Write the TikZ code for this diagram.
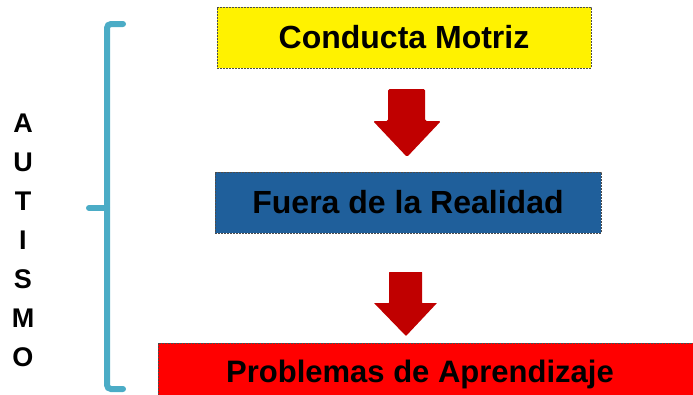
\documentclass[tikz,border=0pt]{standalone}
\usepackage{fontspec}
\setmainfont{Liberation Sans}
\begin{document}
\begin{tikzpicture}[x=1pt,y=-1pt,
  boxtext/.style={font=\fontsize{32}{38}\selectfont\bfseries, text=black},
  dashbox/.style={draw=black!70, line width=0.8pt, dash pattern=on 2pt off 1pt, inner sep=0pt},
  letter/.style={font=\fontsize{27}{30}\selectfont\bfseries, text=black, inner sep=0pt},
  redarrow/.style={fill=arrowred, draw=none, rounded corners=1.5pt},
  bracket/.style={draw=bracketblue, line width=6pt, line cap=round, rounded corners=4pt}]
\definecolor{arrowred}{HTML}{C00000}
\definecolor{boxblue}{HTML}{1F5F9B}
\definecolor{bracketblue}{HTML}{4BACC6}
\useasboundingbox (0,0) rectangle (693,394);
% boxes
\node[dashbox, boxtext, fill=yellow, minimum width=374pt, minimum height=61pt] (b1) at (404,37.5) {Conducta Motriz};
\node[dashbox, boxtext, fill=boxblue, minimum width=386pt, minimum height=61pt] (b2) at (408,202.5) {Fuera de la Realidad};
\path[dashbox, fill=red] (158,343) rectangle (720,420);
\node[boxtext, font=\fontsize{31}{36}\selectfont\bfseries, inner sep=0pt] (b3) at (420,374) {Problemas de Aprendizaje};
% arrows
\path[redarrow] (388,89) -- (425,89) -- (425,121) -- (441,121) -- (407,157) -- (373,121) -- (388,121) -- cycle;
\path[redarrow, rounded corners=0.5pt] (389,272) -- (422,272) -- (422,303) -- (437,303) -- (406,336) -- (374,303) -- (389,303) -- cycle;
% bracket
\draw[bracket] (123,24) -- (107,24) -- (107,389) -- (123,389);
\draw[bracketblue, line width=6pt, line cap=round] (107,208) -- (89,208);
% letters
\foreach \l [count=\i from 0] in {A,U,T,I,S,M,O} {
  \node[letter] (l\i) at (23,{123+39*\i}) {\l};
}
\end{tikzpicture}
\end{document}
